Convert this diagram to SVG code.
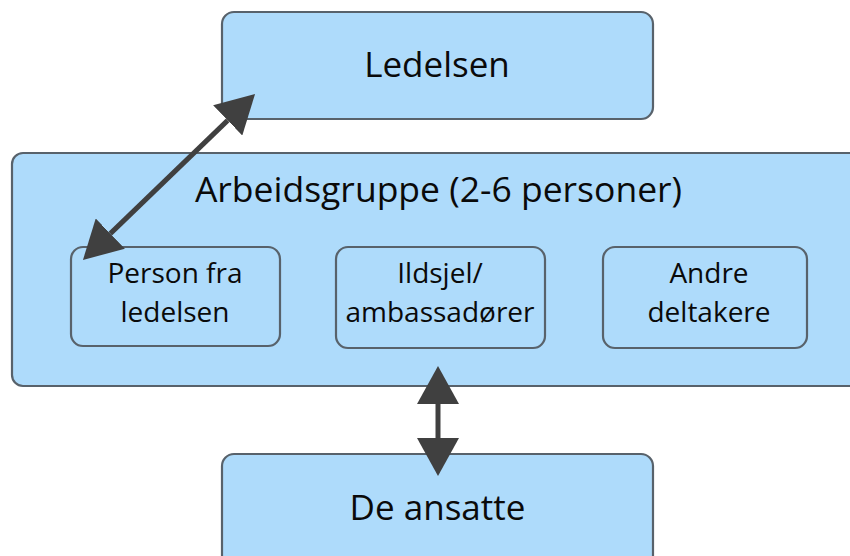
<svg xmlns="http://www.w3.org/2000/svg" width="850" height="556" viewBox="0 0 850 556">
<defs>
<style>
.box{fill:#aedbfb;stroke:#58626b;stroke-width:2.2}
.t{font-family:"Open Sans","Liberation Sans",sans-serif;fill:#0a0a0a;text-anchor:middle}
.big{font-size:35px}
.sm{font-size:28px}
.con{stroke:#404040;stroke-width:5;fill:none}
</style>
<marker id="ah" markerUnits="userSpaceOnUse" viewBox="0 0 38 42" markerWidth="38" markerHeight="42" refX="0" refY="21" orient="auto-start-reverse">
<path d="M0,0 L38,21 L0,42 z" fill="#404040"/>
</marker>
</defs>
<rect width="850" height="556" fill="#fff"/>
<g id="ledelsen">
<rect class="box" x="222" y="12" width="431" height="107" rx="12"/>
<text class="t big" x="437" y="77">Ledelsen</text>
</g>
<g id="arbeidsgruppe">
<rect class="box" x="12" y="153" width="860" height="233" rx="11"/>
<text class="t big" x="438.5" y="202" style="font-size:35.5px">Arbeidsgruppe (2-6 personer)</text>
</g>
<g id="person">
<rect class="box" x="71" y="247" width="209" height="99" rx="12"/>
<text class="t sm" x="175" y="283">Person fra</text>
<text class="t sm" x="175" y="322">ledelsen</text>
</g>
<g id="ildsjel">
<rect class="box" x="336" y="247" width="209" height="101" rx="12"/>
<text class="t sm" x="440" y="283">Ildsjel/</text>
<text class="t sm" x="440" y="322">ambassadører</text>
</g>
<g id="andre">
<rect class="box" x="603" y="247" width="204" height="101" rx="12"/>
<text class="t sm" x="709" y="283">Andre</text>
<text class="t sm" x="709" y="322">deltakere</text>
</g>
<g id="ansatte">
<rect class="box" x="222" y="454" width="431" height="120" rx="12"/>
<text class="t big" x="437.5" y="520">De ansatte</text>
</g>
<g id="connectors">
<line class="con" x1="110.3" y1="233.6" x2="227.7" y2="120.4" marker-start="url(#ah)" marker-end="url(#ah)"/>
<line class="con" x1="438" y1="404" x2="438" y2="438" marker-start="url(#ah)" marker-end="url(#ah)"/>
</g>
</svg>
